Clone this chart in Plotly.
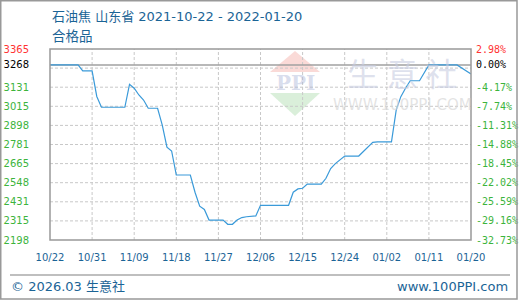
import plotly.graph_objects as go
import datetime as dt

# ---------------- data ----------------
start = dt.date(2021, 10, 22)
day_offsets = [0, 6, 7, 9, 10, 11, 16, 17, 18, 19, 20, 21, 23, 24, 25, 26, 27,
               30, 31, 32, 33, 34, 37, 38, 39, 40, 41, 42, 44, 45, 51, 52, 53,
               54, 55, 58, 59, 60, 61, 62, 63, 66, 67, 68, 69, 70, 73, 74, 75,
               76, 77, 79, 80, 81, 87, 88, 89, 90]
prices = [3268, 3268, 3231, 3231, 3075, 3009, 3009, 3149, 3125, 3084, 3053, 3003,
          3003, 2900, 2765, 2742, 2595, 2595, 2490, 2405, 2385, 2320, 2320, 2294,
          2294, 2320, 2335, 2340, 2345, 2410, 2410, 2490, 2510, 2514, 2540, 2540,
          2575, 2635, 2665, 2690, 2711, 2711, 2740, 2770, 2795, 2798, 2798, 2990,
          3074, 3125, 3171, 3171, 3217, 3268, 3268, 3250, 3232, 3212]
dates = [start + dt.timedelta(days=d) for d in day_offsets]

base_price = 3268
y_min, y_max = 2198, 3365
grid_vals = [2198 + k * (y_max - y_min) / 10 for k in range(10)]
left_tick_vals = [2198, 2315, 2431, 2548, 2665, 2781, 2898, 3015, 3131, 3268, 3365]
left_tick_text = ["2198", "2315", "2431", "2548", "2665", "2781", "2898", "3015",
                  "3131", "3268", "3365"]
right_tick_text = ["-32.73%", "-29.16%", "-25.59%", "-22.02%", "-18.45%", "-14.88%",
                   "-11.31%", "-7.74%", "-4.17%", "0.00%", "2.98%"]
x_tick_labels = ["10/22", "10/31", "11/09", "11/18", "11/27", "12/06", "12/15",
                 "12/24", "01/02", "01/11", "01/20"]
x_tick_dates = [start + dt.timedelta(days=9 * i) for i in range(len(x_tick_labels))]

title_text = "石油焦 山东省 2021-10-22 - 2022-01-20"
subtitle_text = "合格品"
footer_left = "© 2026.03 生意社"
footer_right = "www.100PPI.com"

# ---------------- style ----------------
GREEN = "#3cb43c"
RED = "#ff3333"
BLACK = "#000000"
BLUE_TXT = "#1b6496"
LINE = "#3a9ad9"
GRID = "#c8c8c8"
FRAME = "#999999"
PW, PH = 421, 191   # plot area size in px (left 50, top 49)
TXT_FONT = "DejaVu Sans, Noto Sans CJK SC"


def px_x(px):
    return (px - 50) / PW


def px_y(py):
    return (240 - py) / PH


def colored(txts, top_idx=10, base_idx=9):
    out = []
    for i, t in enumerate(txts):
        c = RED if i == top_idx else (BLACK if i == base_idx else GREEN)
        out.append(f'<span style="color:{c}">{t}</span>')
    return out


fig = go.Figure()
fig.add_trace(go.Scatter(
    x=dates, y=prices, mode="lines",
    line=dict(color=LINE, width=1.2),
    hoverinfo="skip", showlegend=False))
fig.add_trace(go.Scatter(x=[dates[0]], y=[prices[0]], yaxis="y2", mode="markers",
                         marker=dict(opacity=0), showlegend=False, hoverinfo="skip"))

x0 = dt.date(2021, 10, 22)
x1 = dt.date(2022, 1, 20)

shapes = []
# watermark logo triangles
shapes.append(dict(type="path", xref="paper", yref="paper",
                   path=f"M {px_x(270)} {px_y(72)} L {px_x(320)} {px_y(72)} "
                        f"L {px_x(295)} {px_y(51)} Z",
                   fillcolor="rgba(240,150,140,0.35)", line=dict(width=0), layer="below"))
shapes.append(dict(type="path", xref="paper", yref="paper",
                   path=f"M {px_x(270)} {px_y(93)} L {px_x(320)} {px_y(93)} "
                        f"L {px_x(295)} {px_y(116)} Z",
                   fillcolor="rgba(150,210,150,0.35)", line=dict(width=0), layer="below"))
# dashed horizontal grid
for v in grid_vals[1:]:
    shapes.append(dict(type="line", xref="paper", yref="y", x0=0, x1=1, y0=v, y1=v,
                       line=dict(color=GRID, width=1, dash="3px,2px"), layer="below"))
# dashed vertical grid
for d in x_tick_dates[1:-1]:
    shapes.append(dict(type="line", xref="x", yref="paper", x0=d, x1=d, y0=0, y1=1,
                       line=dict(color=GRID, width=1, dash="3px,2px"), layer="below"))
# baseline
shapes.append(dict(type="line", xref="paper", yref="y", x0=0, x1=1,
                   y0=base_price, y1=base_price,
                   line=dict(color="#a0a0a0", width=1.5), layer="below"))
# plot frame
shapes.append(dict(type="rect", xref="paper", yref="paper", x0=0, x1=1, y0=0, y1=1,
                   line=dict(color=FRAME, width=1.5), layer="above"))
# footer separator
shapes.append(dict(type="line", xref="paper", yref="paper",
                   x0=px_x(10), x1=px_x(510), y0=px_y(275), y1=px_y(275),
                   line=dict(color="#aaaaaa", width=1.5)))
# outer border
shapes.append(dict(type="rect", xref="paper", yref="paper",
                   x0=px_x(0.75), x1=px_x(517), y0=px_y(299), y1=px_y(0.75),
                   line=dict(color="#999999", width=1.5)))

annotations = [
    dict(text=title_text, xref="paper", yref="paper", x=0, y=px_y(16),
         xanchor="left", yanchor="middle", showarrow=False,
         font=dict(family=TXT_FONT, size=13, color=BLUE_TXT)),
    dict(text=subtitle_text, xref="paper", yref="paper", x=0, y=px_y(35),
         xanchor="left", yanchor="middle", showarrow=False,
         font=dict(family="Noto Sans CJK SC", size=13.5, color=BLUE_TXT)),
    dict(text=footer_left, xref="paper", yref="paper", x=px_x(9), y=px_y(286),
         xanchor="left", yanchor="middle", showarrow=False,
         font=dict(family=TXT_FONT, size=13, color=BLUE_TXT)),
    dict(text=footer_right, xref="paper", yref="paper", x=px_x(510), y=px_y(286),
         xanchor="right", yanchor="middle", showarrow=False,
         font=dict(family="DejaVu Sans", size=13, color=BLUE_TXT)),
    # watermark texts
    dict(text="生 意 社", xref="paper", yref="paper", x=px_x(402), y=px_y(72),
         xanchor="center", yanchor="middle", showarrow=False,
         font=dict(family="Noto Sans CJK SC", size=32, color="rgba(200,205,225,0.6)")),
    dict(text="WWW.100PPI.COM", xref="paper", yref="paper", x=px_x(402),
         y=px_y(105), xanchor="center", yanchor="middle", showarrow=False,
         font=dict(family="DejaVu Sans", size=15, color="rgba(215,215,215,0.7)")),
    dict(text="<b>PPI</b>", xref="paper", yref="paper", x=px_x(295),
         y=px_y(83), xanchor="center", yanchor="middle", showarrow=False,
         font=dict(family="DejaVu Serif", size=20, color="rgba(170,180,215,0.45)")),
]

fig.update_layout(
    width=520, height=300,
    margin=dict(l=50, r=49, t=49, b=60),
    paper_bgcolor="white", plot_bgcolor="rgba(0,0,0,0)",
    showlegend=False,
    shapes=shapes, annotations=annotations,
    xaxis=dict(range=[x0, x1], tickvals=x_tick_dates, ticktext=x_tick_labels,
               showgrid=False, zeroline=False, showline=False, ticks="",
               automargin=False,
               tickfont=dict(family="DejaVu Sans", size=10, color=BLUE_TXT),
               ticklabelstandoff=10),
    yaxis=dict(range=[y_min, y_max], tickvals=left_tick_vals,
               ticktext=colored(left_tick_text), showgrid=False, zeroline=False,
               showline=False, ticks="", automargin=False,
               tickfont=dict(family="DejaVu Sans", size=10, color=GREEN),
               ticklabelstandoff=20),
    yaxis2=dict(range=[y_min, y_max], overlaying="y", side="right",
                tickvals=left_tick_vals, ticktext=colored(right_tick_text),
                showgrid=False, zeroline=False, showline=False, ticks="",
                automargin=False,
                tickfont=dict(family="DejaVu Sans Mono", size=10, color=GREEN),
                ticklabelstandoff=4),
)

fig.write_html("out.html")
